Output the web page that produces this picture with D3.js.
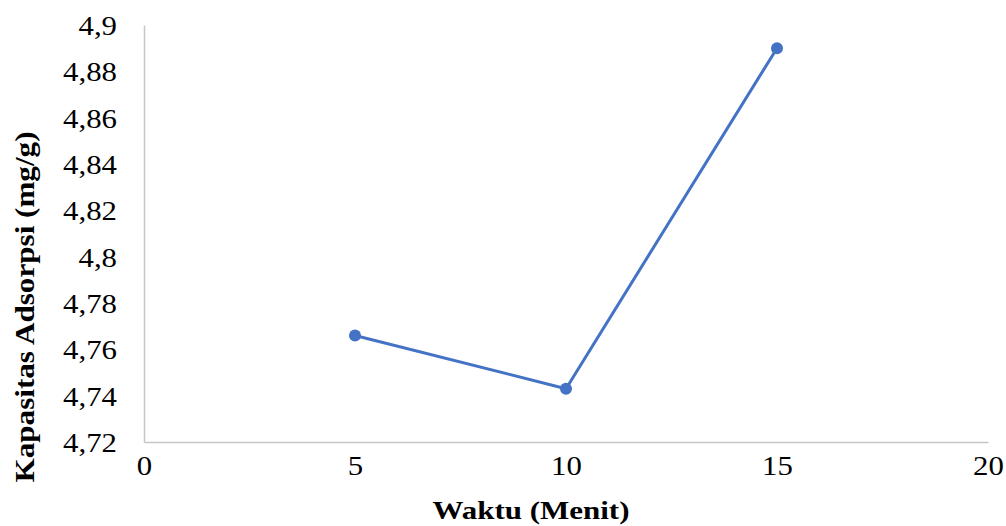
<!DOCTYPE html>
<html>
<head>
<meta charset="utf-8">
<script src="https://cdn.jsdelivr.net/npm/d3@7"></script>
<style>
  html, body { margin: 0; padding: 0; background: #fff; }
  svg { display: block; }
  svg text { font-family: "Liberation Serif", "Times New Roman", serif !important; fill: #000; }
</style>
</head>
<body>
<svg id="chart" width="1006" height="526"></svg>
<script>
const waktu = [5, 10, 15];
const kapasitas = [4.766, 4.743, 4.89];
const xTicks = [0, 5, 10, 15, 20];
const yTicks = [4.72, 4.74, 4.76, 4.78, 4.80, 4.82, 4.84, 4.86, 4.88, 4.90];
const xTitle = "Waktu (Menit)";
const yTitle = "Kapasitas Adsorpsi (mg/g)";

(function () {
const svg = d3.select("#chart");
const mLeft = 144, mRight = 988, mTop = 25, mBottom = 442;

const x = d3.scaleLinear().domain([0, 20]).range([mLeft, mRight]);
const y = d3.scaleLinear().domain([4.72, 4.9]).range([mBottom, mTop]);

const fmt = v => d3.format("~g")(+v.toFixed(2)).replace(".", ",");

// Y axis
const yAxis = svg.append("g")
  .attr("transform", `translate(${mLeft},0)`)
  .call(d3.axisLeft(y).tickValues(yTicks).tickSize(0).tickPadding(27).tickFormat(fmt))
  .attr("font-family", null).attr("font-size", null);
yAxis.select(".domain").attr("stroke", "#c6c6c6").attr("stroke-width", 1.5);
yAxis.selectAll("text").attr("font-size", 28).attr("dy", "0.34em").attr("fill", "#1a1a1a")
  .attr("lengthAdjust", "spacingAndGlyphs")
  .attr("textLength", function () { return this.getComputedTextLength() * 1.1; });

// X axis
const xAxis = svg.append("g")
  .attr("transform", `translate(0,${mBottom})`)
  .call(d3.axisBottom(x).tickValues(xTicks).tickSize(0).tickPadding(25).tickFormat(d3.format("d")))
  .attr("font-family", null).attr("font-size", null);
xAxis.select(".domain").attr("stroke", "#c6c6c6").attr("stroke-width", 1.5);
xAxis.selectAll("text").attr("font-size", 28).attr("dy", "0.3em").attr("fill", "#1a1a1a")
  .attr("lengthAdjust", "spacingAndGlyphs")
  .attr("textLength", function () { return this.getComputedTextLength() * 1.1; });

const data = waktu.map((w, i) => ({ w, k: kapasitas[i] }));

svg.append("path")
  .datum(data)
  .attr("fill", "none")
  .attr("stroke", "#4472C4")
  .attr("stroke-width", 3)
  .attr("stroke-linejoin", "round")
  .attr("d", d3.line().x(d => x(d.w)).y(d => y(d.k)));

svg.selectAll("circle.pt")
  .data(data)
  .enter().append("circle")
  .attr("class", "pt")
  .attr("cx", d => x(d.w))
  .attr("cy", d => y(d.k))
  .attr("r", 6)
  .attr("fill", "#4472C4");

svg.append("text")
  .attr("x", 531)
  .attr("y", 519)
  .attr("text-anchor", "middle")
  .attr("font-size", 26)
  .attr("font-weight", "bold")
  .attr("lengthAdjust", "spacingAndGlyphs")
  .attr("textLength", 197)
  .text(xTitle);

svg.append("text")
  .attr("transform", "translate(34,307) rotate(-90)")
  .attr("text-anchor", "middle")
  .attr("font-size", 27)
  .attr("font-weight", "bold")
  .attr("lengthAdjust", "spacingAndGlyphs")
  .attr("textLength", 351)
  .text(yTitle);
})();
</script>
</body>
</html>
